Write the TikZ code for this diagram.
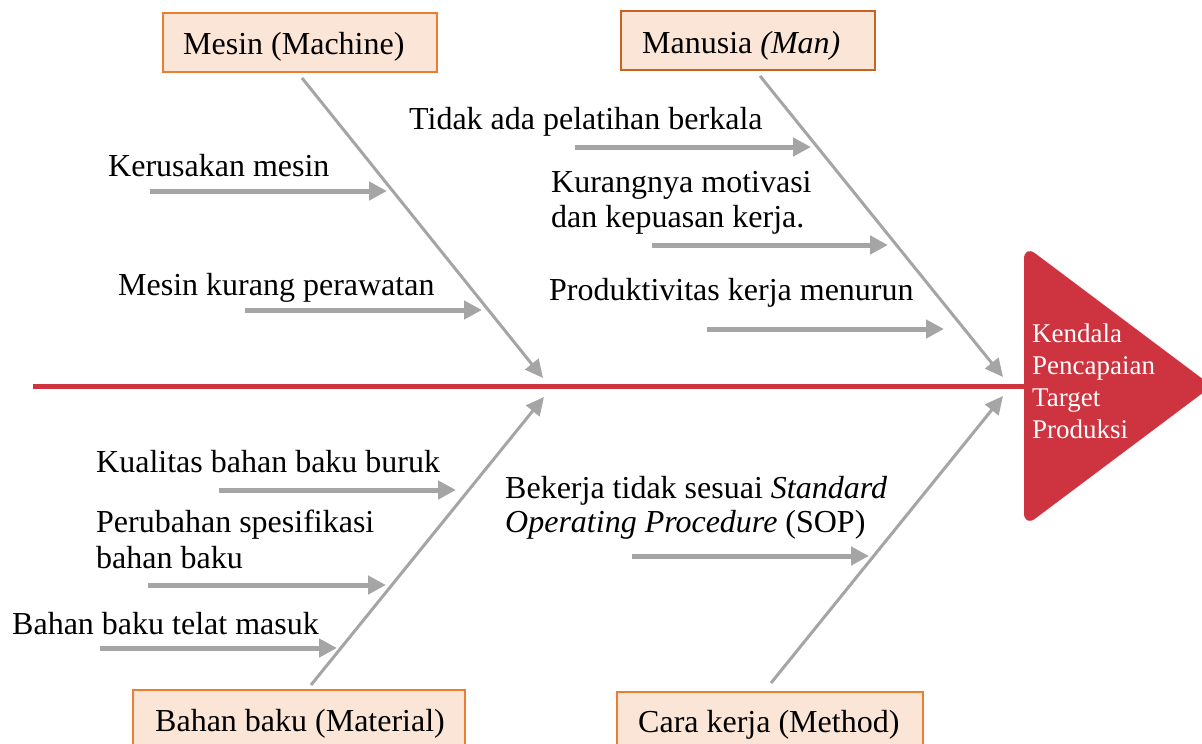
\documentclass[tikz,border=0pt]{standalone}
\usepackage{fontspec}
\setmainfont{Liberation Serif}
\usetikzlibrary{arrows.meta}
\definecolor{boxfill}{HTML}{FBE5D6}
\definecolor{boxline}{HTML}{ED7D31}
\definecolor{boxlinedark}{HTML}{C8631F}
\definecolor{spinered}{HTML}{CD3440}
\definecolor{bonegray}{HTML}{A5A5A5}
\tikzset{
  catbox/.style={draw=boxline, fill=boxfill, line width=2pt},
  lbl/.style={anchor=base west, inner sep=0pt, font=\fontsize{32}{34.5}\selectfont},
  headlbl/.style={anchor=base west, inner sep=0pt, text=white, font=\fontsize{27}{32.2}\selectfont},
  bone/.style={draw=bonegray, line width=3pt, -{Triangle[length=18pt,width=17pt]}},
  twig/.style={draw=bonegray, line width=5pt, -{Triangle[length=18pt,width=18pt]}},
}
\begin{document}
\begin{tikzpicture}[x=1pt,y=-1pt]
\useasboundingbox (0,0) rectangle (1202,744);
\fill[white] (0,0) rectangle (1202,744);

% category boxes
\draw[catbox] (163,13) rectangle (437,72);
\node[lbl] (tmesin) at (183,54) {Mesin (Machine)};
\draw[catbox, draw=boxlinedark] (621,11) rectangle (875,70);
\node[lbl] (tman) at (642,53) {Manusia \textit{(Man)}};
\draw[catbox] (133,690) rectangle (465,760);
\node[lbl] (tmat) at (155,731) {Bahan baku (Material)};
\draw[catbox] (617,692) rectangle (923,760);
\node[lbl] (tmet) at (638,732) {Cara kerja (Method)};

% head
\coordinate (spinestart) at (33,386);
\coordinate (headwest) at (1024,386);
\fill[spinered, rounded corners=14pt] (1024,245) -- (1212,386) -- (1024,527) -- cycle;
\fill[spinered] (1024,260) rectangle (1040,512);
\node[headlbl] (head1) at (1032,342) {Kendala};
\node[headlbl] (head2) at (1032,374) {Pencapaian};
\node[headlbl] (head3) at (1032,406) {Target};
\node[headlbl] (head4) at (1032,438) {Produksi};

% spine
\draw[spinered, line width=5pt] (spinestart) -- (headwest);

% main bones
\coordinate (m1) at (302,78);  \coordinate (m2) at (543,378);
\coordinate (p1) at (760,76);  \coordinate (p2) at (1003,377);
\coordinate (b1) at (311,685); \coordinate (b2) at (544,397);
\coordinate (c1) at (771,683); \coordinate (c2) at (1003,396);
\draw[bone] (m1) -- (m2);
\draw[bone] (p1) -- (p2);
\draw[bone] (b1) -- (b2);
\draw[bone] (c1) -- (c2);

% causes: Mesin
\node[lbl] (k1) at (108,176) {Kerusakan mesin};
\coordinate (k1a) at (150,191); \coordinate (k1b) at (387,191);
\draw[twig] (k1a) -- (k1b);
\node[lbl] (k2) at (118,295) {Mesin kurang perawatan};
\coordinate (k2a) at (245,310); \coordinate (k2b) at (482,310);
\draw[twig] (k2a) -- (k2b);

% causes: Manusia
\node[lbl] (h1) at (409,129) {Tidak ada pelatihan berkala};
\coordinate (h1a) at (575,147); \coordinate (h1b) at (811,147);
\draw[twig] (h1a) -- (h1b);
\node[lbl] (h2) at (551,192) {Kurangnya motivasi};
\node[lbl] (h2b) at (551,227) {dan kepuasan kerja.};
\coordinate (h2a) at (652,245); \coordinate (h2c) at (888,245);
\draw[twig] (h2a) -- (h2c);
\node[lbl] (h3) at (549,300) {Produktivitas kerja menurun};
\coordinate (h3a) at (707,329); \coordinate (h3b) at (944,329);
\draw[twig] (h3a) -- (h3b);

% causes: Bahan baku
\node[lbl] (r1) at (96,472) {Kualitas bahan baku buruk};
\coordinate (r1a) at (219,490); \coordinate (r1b) at (456,490);
\draw[twig] (r1a) -- (r1b);
\node[lbl] (r2) at (96,532) {Perubahan spesifikasi};
\node[lbl] (r2b) at (96,568) {bahan baku};
\coordinate (r2a) at (148,585); \coordinate (r2c) at (386,585);
\draw[twig] (r2a) -- (r2c);
\node[lbl] (r3) at (12,634) {Bahan baku telat masuk};
\coordinate (r3a) at (100,648); \coordinate (r3b) at (337,648);
\draw[twig] (r3a) -- (r3b);

% causes: Cara kerja
\node[lbl] (w1) at (505,498) {Bekerja tidak sesuai \textit{Standard}};
\node[lbl] (w1b) at (505,532) {\textit{Operating Procedure} (SOP)};
\coordinate (w1a) at (632,556); \coordinate (w1c) at (869,556);
\draw[twig] (w1a) -- (w1c);
\end{tikzpicture}
\end{document}
